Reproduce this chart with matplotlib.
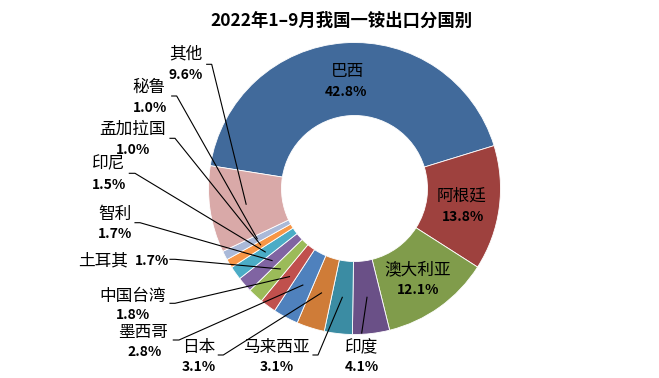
import matplotlib
matplotlib.use("Agg")
import matplotlib.pyplot as plt
import numpy as np

plt.rcParams['font.family'] = ['Noto Sans CJK SC', 'DejaVu Sans']

title = "2022年1–9月我国一铵出口分国别"
countries = ["巴西", "阿根廷", "澳大利亚", "印度", "马来西亚", "日本", "墨西哥",
             "中国台湾", "土耳其", "智利", "印尼", "孟加拉国", "秘鲁", "其他"]
shares = [42.8, 13.8, 12.1, 4.1, 3.1, 3.1, 2.8, 1.8, 1.7, 1.7, 1.5, 1.0, 1.0, 9.6]
colors = ["#416A9B", "#9E413E", "#809C4B", "#6A5087", "#3B8CA3", "#CF7C38",
          "#4F81BD", "#C0504D", "#9BBB59", "#8064A2", "#4BACC6", "#F79646",
          "#AAB9D8", "#D9A9A8"]

W, H = 659, 378
fig = plt.figure(figsize=(W / 100, H / 100), dpi=100)
ax = fig.add_axes([0, 0, 1, 1])

def P(x, y):
    return x, H - y

cx, cy = P(354.5, 188.5)
R = 146
ring = 73
wedges, _ = ax.pie(shares, colors=colors, startangle=171, counterclock=False,
                   radius=R, center=(cx, cy),
                   wedgeprops=dict(width=ring, edgecolor='white', linewidth=0.6))
ax.set_aspect('equal')
ax.set_xlim(0, W)
ax.set_ylim(0, H)
ax.axis('off')

# label layout: name position, pct position, leader start (None -> inside label)
inside = {
    "巴西": ((347.5, 71.7), (346.3, 92.0)),
    "阿根廷": ((462.0, 195.8), (463.3, 216.7)),
    "澳大利亚": ((417.3, 270.0), (418.3, 290.0)),
}
outside = {
    "印度": ((361.7, 347.5), (361.7, 367.0), [(361.7, 333.0)]),
    "马来西亚": ((276.7, 347.5), (276.7, 367.0), [(313.0, 355.0), (318.0, 355.0)]),
    "日本": ((199.0, 347.5), (198.7, 366.7), [(218.3, 355.0), (223.3, 355.0)]),
    "墨西哥": ((143.3, 332.5), (145.0, 352.0), [(173.3, 340.0), (179.0, 340.0)]),
    "中国台湾": ((132.5, 296.0), (133.3, 315.0), [(170.0, 303.3), (175.0, 303.3)]),
    "智利": ((115.0, 214.0), (115.3, 234.0), [(135.0, 222.7), (140.0, 222.7)]),
    "印尼": ((108.8, 164.0), (108.7, 185.0), [(129.3, 173.3), (135.0, 173.3)]),
    "孟加拉国": ((132.5, 129.5), (133.3, 150.0), [(170.0, 138.3), (175.0, 138.3)]),
    "秘鲁": ((149.5, 87.5), (150.0, 108.3), [(171.7, 96.0), (176.7, 96.0)]),
    "其他": ((185.8, 54.0), (186.0, 74.7), [(206.7, 64.3), (211.7, 64.3)]),
}

name_fs = 12
pct_fs = 10

for name, val, w in zip(countries, shares, wedges):
    pct = f"{val:.1f}%"
    mid = np.deg2rad((w.theta1 + w.theta2) / 2)
    rm = R - ring / 2
    ex, ey = cx + rm * np.cos(mid), cy + rm * np.sin(mid)
    if name in inside:
        (nx, ny), (px, py) = inside[name]
        ax.text(*P(nx, ny), name, ha='center', va='center', fontsize=name_fs, color='black')
        ax.text(*P(px, py), pct, ha='center', va='center', fontsize=pct_fs,
                fontweight='bold', color='black')
    elif name == "土耳其":
        ax.text(*P(128.3, 261.0), name, ha='right', va='center', fontsize=name_fs, color='black')
        ax.text(*P(135.0, 261.0), pct, ha='left', va='center', fontsize=pct_fs,
                fontweight='bold', color='black')
        pts = [P(170.0, 259.3), P(175.0, 259.3), (ex, ey)]
        xs, ys = zip(*pts)
        ax.plot(xs, ys, color='black', lw=0.8, solid_joinstyle='miter')
    else:
        (nx, ny), (px, py), start = outside[name]
        ax.text(*P(nx, ny), name, ha='center', va='center', fontsize=name_fs, color='black')
        ax.text(*P(px, py), pct, ha='center', va='center', fontsize=pct_fs,
                fontweight='bold', color='black')
        pts = [P(*s) for s in start] + [(ex, ey)]
        xs, ys = zip(*pts)
        ax.plot(xs, ys, color='black', lw=0.8, solid_joinstyle='miter')

ax.text(*P(341, 21), title, ha='center', va='center', fontsize=12.5,
        fontweight='bold', color='black')

fig.savefig("out.png", dpi=100)
